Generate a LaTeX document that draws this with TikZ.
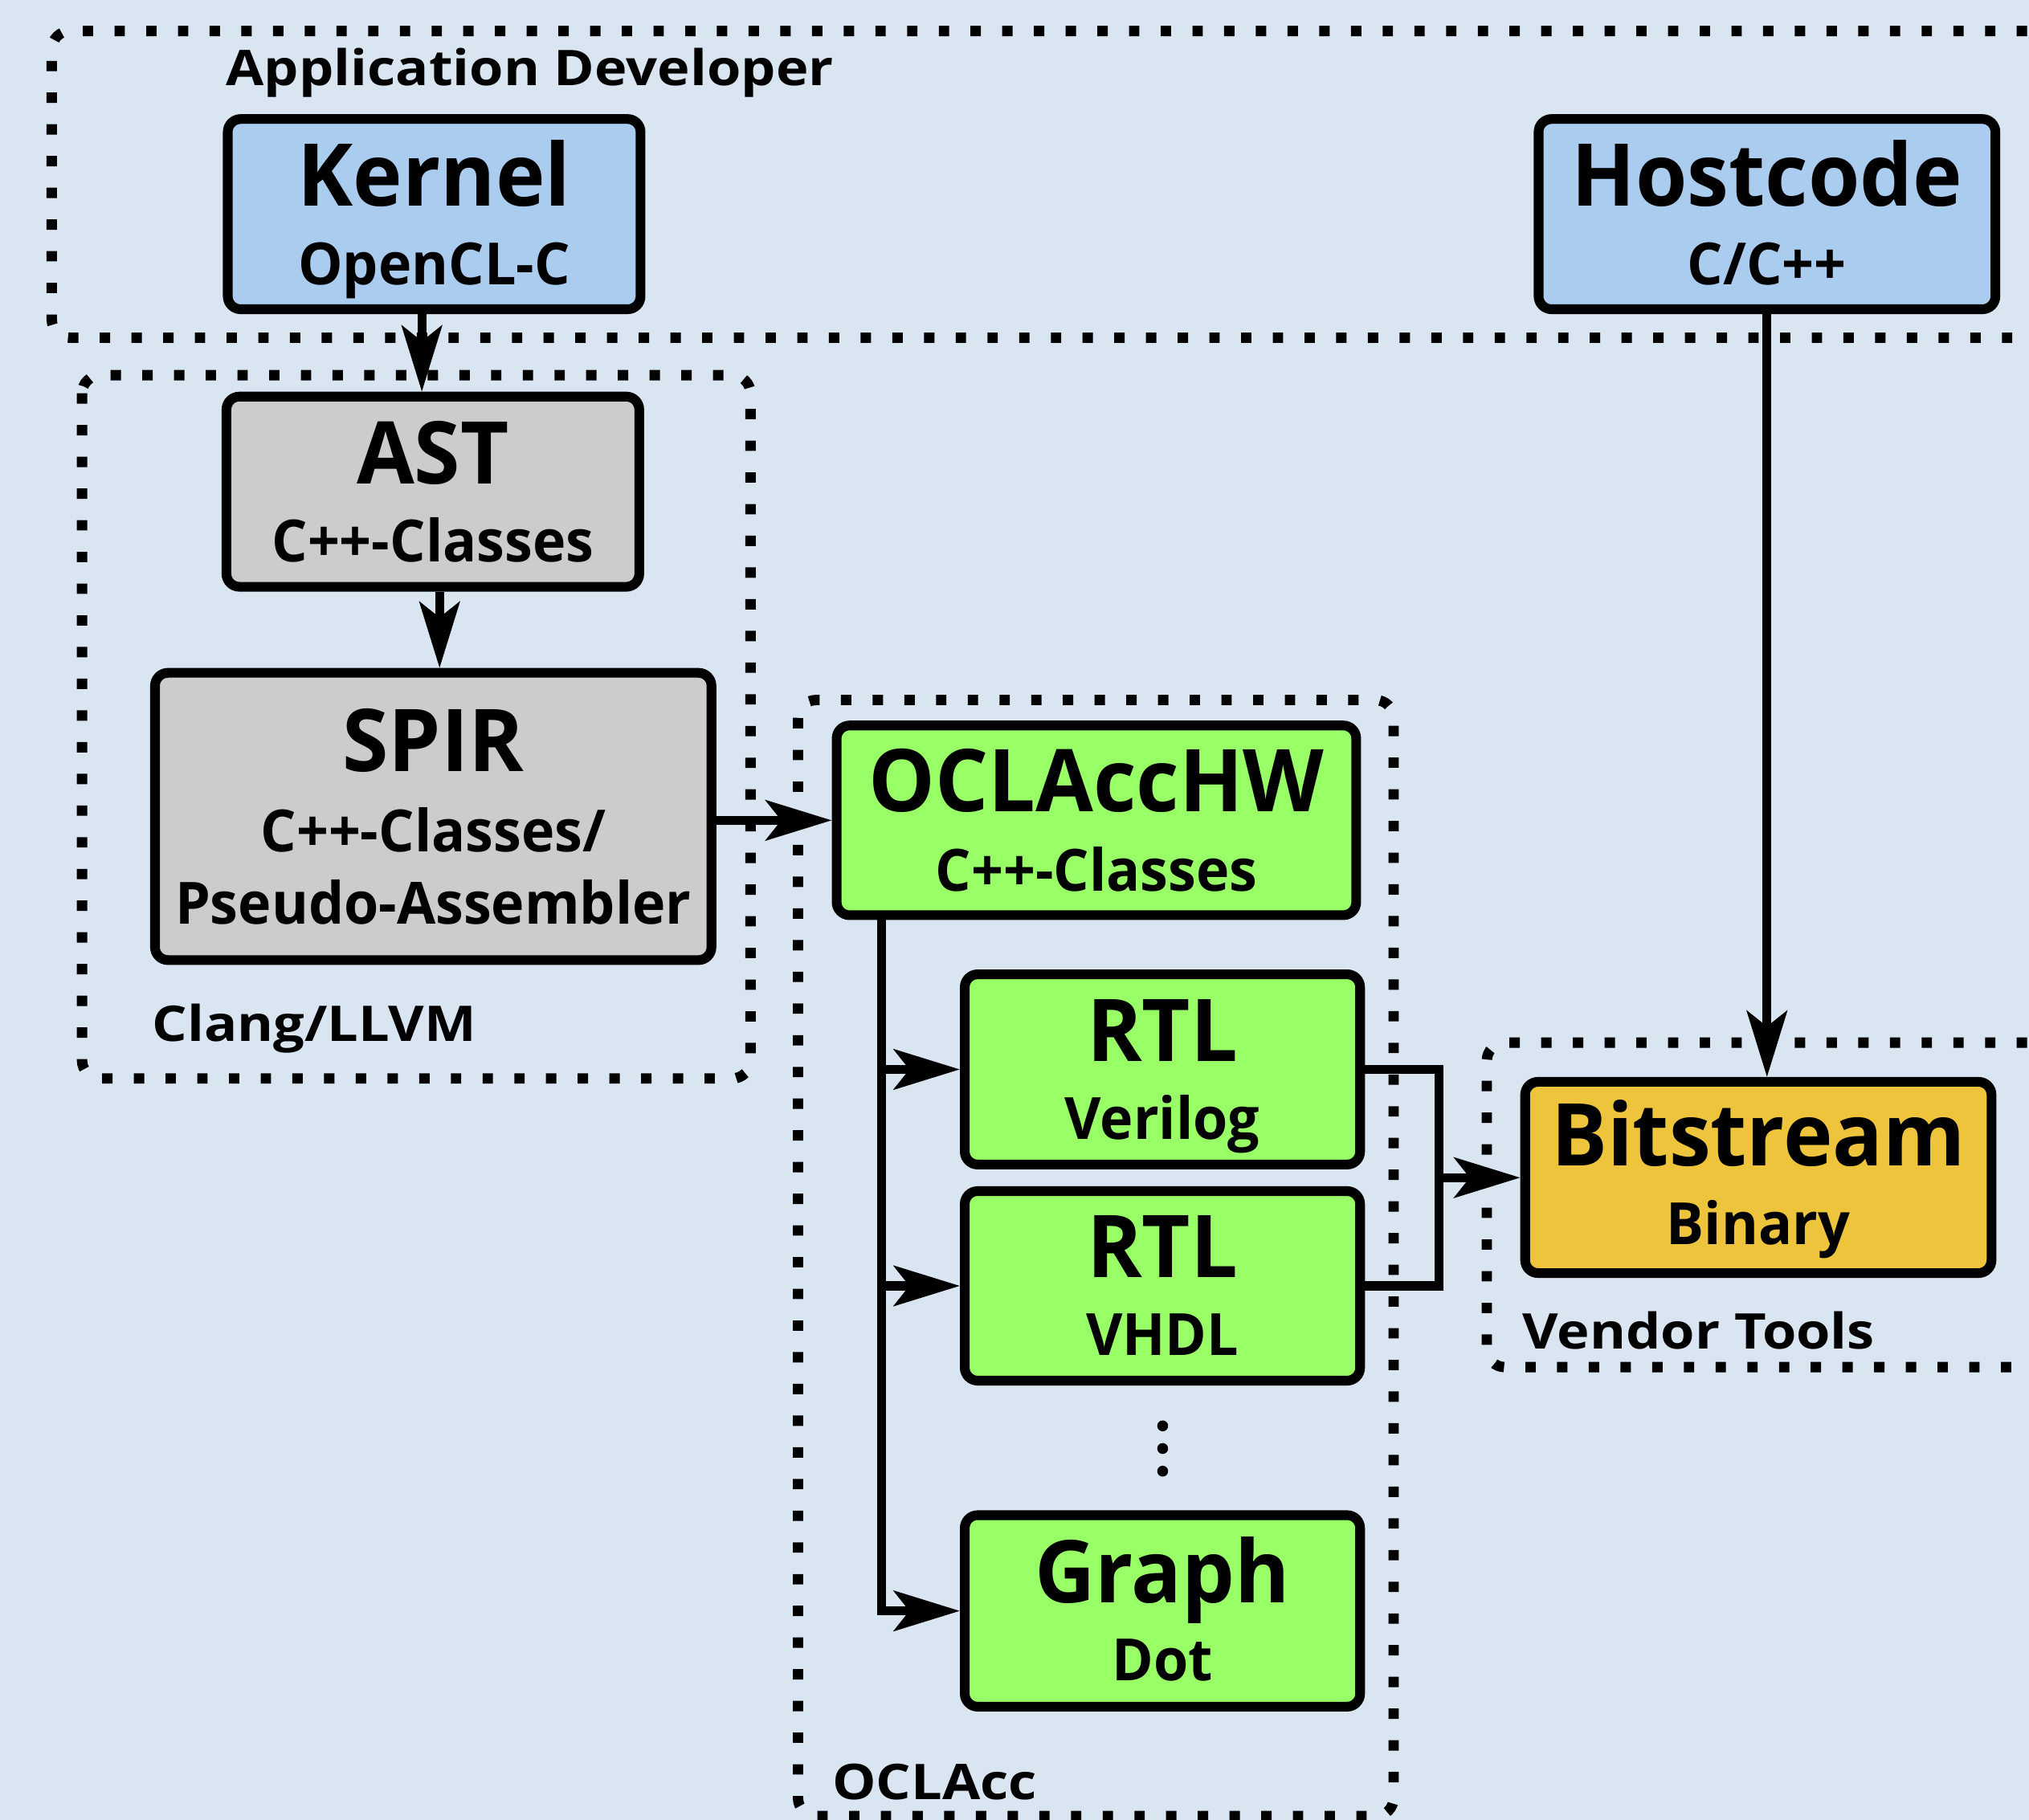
\documentclass[tikz,border=0pt]{standalone}
\usepackage{fontspec}
\setmainfont{Open Sans}
\newfontfamily\boxfont{Open Sans}[FakeStretch=0.965]
\newfontfamily\labfont{Open Sans}[FakeStretch=1.12]
\usetikzlibrary{arrows.meta,calc}
\definecolor{bgc}{RGB}{217,229,241}
\definecolor{bluec}{RGB}{170,204,238}
\definecolor{grayc}{RGB}{204,204,204}
\definecolor{greenc}{RGB}{153,255,102}
\definecolor{orangec}{RGB}{238,196,60}
\begin{document}
\begin{tikzpicture}[x=1pt,y=1pt,
  bx/.style={draw=black, line width=7.5pt, rounded corners=10pt, inner sep=0pt},
  grp/.style={draw=black, line width=8pt, dash pattern=on 8pt off 16.5pt, rounded corners=14pt},
  conn/.style={draw=black, line width=7pt},
  arr/.style={conn, -{Stealth[length=51pt,width=31pt,inset=12pt]}},
  ttl/.style={font=\boxfont\bfseries\fontsize{67}{80}\selectfont, anchor=base, inner sep=0pt},
  subt/.style={font=\boxfont\bfseries\fontsize{45}{54}\selectfont, anchor=base, inner sep=0pt},
  glab/.style={font=\labfont\bfseries\fontsize{38}{46}\selectfont, anchor=base west, inner sep=0pt},
]
\fill[bgc] (0,0) rectangle (1568,-1406.6);
\clip (0,0) rectangle (1568,-1406.6);

% groups
\draw[grp] (1640,-24) -- (40,-24) -- (40,-261) -- (1640,-261);
\draw[grp] (63.4,-290) rectangle (580,-833.5);
\draw[grp] (616.7,-541) rectangle (1077,-1403.6);
\draw[grp] (1640,-805.8) -- (1149,-805.8) -- (1149,-1056.6) -- (1640,-1056.6);

\node[glab] (lappdev) at (174.5,-66) {Application Developer};
\node[glab] (lclang) at (117.5,-805) {Clang/LLVM};
\node[glab] (loclacc) at (643,-1391) {OCLAcc};
\node[glab] (lvendor) at (1176.5,-1042.8) {Vendor Tools};

% boxes
\node[bx, fill=bluec, minimum width=319pt, minimum height=147pt] (kernel) at (335.5,-165.5) {};
\node[bx, fill=bluec, minimum width=353pt, minimum height=147pt] (hostcode) at (1365.5,-165.5) {};
\node[bx, fill=grayc, minimum width=319pt, minimum height=147pt] (ast) at (334.5,-380) {};
\node[bx, fill=grayc, minimum width=430pt, minimum height=222pt] (spir) at (334.8,-631) {};
\node[bx, fill=greenc, minimum width=401.5pt, minimum height=146.6pt] (oclacchw) at (847.3,-634) {};
\node[bx, fill=greenc, minimum width=305.5pt, minimum height=147pt] (verilog) at (898.3,-826.5) {};
\node[bx, fill=greenc, minimum width=305.5pt, minimum height=146.5pt] (vhdl) at (898.3,-993.8) {};
\node[bx, fill=greenc, minimum width=305.5pt, minimum height=148pt] (graph) at (898.3,-1245) {};
\node[bx, fill=orangec, minimum width=360.4pt, minimum height=147.8pt] (bitstream) at (1358.8,-910) {};

% texts
\node[ttl] (kernelT) at ([yshift=6pt]kernel.center) {Kernel};
\node[subt] (kernelS) at ([yshift=-54.5pt]kernel.center) {OpenCL-C};
\node[ttl] (hostcodeT) at ([yshift=6pt]hostcode.center) {Hostcode};
\node[subt] (hostcodeS) at ([yshift=-54.5pt]hostcode.center) {C/C++};
\node[ttl] (astT) at ([yshift=6pt]ast.center) {AST};
\node[subt] (astS) at ([yshift=-54pt]ast.center) {C++-Classes};
\node[ttl] (spirT) at ([yshift=35pt]spir.center) {SPIR};
\node[subt] (spirS1) at ([yshift=-27pt]spir.center) {C++-Classes/};
\node[subt] (spirS2) at ([yshift=-83pt]spir.center) {Pseudo-Assembler};
\node[ttl] (oclacchwT) at ([yshift=6.5pt]oclacchw.center) {OCLAccHW};
\node[subt] (oclacchwS) at ([yshift=-55pt]oclacchw.center) {C++-Classes};
\node[ttl] (verilogT) at ([yshift=6.5pt]verilog.center) {RTL};
\node[subt] (verilogS) at ([yshift=-54pt]verilog.center) {Verilog};
\node[ttl] (vhdlT) at ([yshift=6.5pt]vhdl.center) {RTL};
\node[subt] (vhdlS) at ([yshift=-54pt]vhdl.center) {VHDL};
\node[ttl] (graphT) at ([yshift=6.5pt]graph.center) {Graph};
\node[subt] (graphS) at ([yshift=-54pt]graph.center) {Dot};
\node[ttl] (bitstreamT) at ([yshift=9pt]bitstream.center) {Bitstream};
\node[subt] (bitstreamS) at ([yshift=-52pt]bitstream.center) {Binary};

% vertical ellipsis
\foreach \yy in {1102,1119.5,1137} \fill (898.5,-\yy) circle (4.2pt);

% connectors
\coordinate (k1) at ([xshift=-9.5pt]kernel.south);
\draw[arr] (k1) -- (k1 |- ast.north);
\coordinate (a1) at ([xshift=5.2pt]ast.south);
\draw[arr] (a1) -- (a1 |- spir.north);
\draw[arr] (spir.east |- oclacchw.west) -- (oclacchw.west);
\coordinate (busx) at ([xshift=38.5pt]oclacchw.south west);
\draw[arr] (busx) |- (graph.west);
\draw[arr] (busx |- verilog.west) -- (verilog.west);
\draw[arr] (busx |- vhdl.west) -- (vhdl.west);
\coordinate (merge) at ($(verilog.east)!0.5!(vhdl.east) + (57.4,0)$);
\draw[conn] (verilog.east) -| (merge) |- (vhdl.east);
\draw[arr] (merge) -- (merge -| bitstream.west);
\draw[arr] (hostcode.south) -- (hostcode.south |- bitstream.north);
\end{tikzpicture}
\end{document}
